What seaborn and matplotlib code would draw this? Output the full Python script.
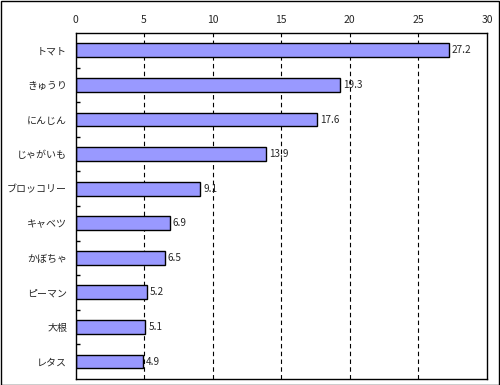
import matplotlib
matplotlib.use("Agg")
import matplotlib.pyplot as plt
import seaborn as sns
import pandas as pd
from matplotlib.patches import Rectangle

vegetables = ["トマト", "きゅうり", "にんじん", "じゃがいも", "ブロッコリー",
              "キャベツ", "かぼちゃ", "ピーマン", "大根", "レタス"]
values = [27.2, 19.3, 17.6, 13.9, 9.1, 6.9, 6.5, 5.2, 5.1, 4.9]
x_ticks = [0, 5, 10, 15, 20, 25, 30]

sns.set_style("white")
plt.rcParams["font.family"] = ["Noto Sans CJK JP", "DejaVu Sans"]

df = pd.DataFrame({"veg": vegetables, "val": values})

fig = plt.figure(figsize=(5, 3.85), dpi=100)
ax = fig.add_axes([0.151, 0.016, 0.823, 0.898])

for x in x_ticks[1:-1]:
    ax.axvline(x, color="black", linestyle=(0, (4, 3)), linewidth=0.8, zorder=0)

sns.barplot(data=df, x="val", y="veg", orient="h", color="#9999FF",
            saturation=1, width=0.4, edgecolor="black", linewidth=1, ax=ax,
            zorder=2)

ax.set_xlim(0, 30)
ax.set_ylim(len(vegetables) - 0.5, -0.5)
ax.set_xticks(x_ticks)
ax.xaxis.tick_top()
ax.tick_params(axis="x", length=0, labelsize=7.5, pad=6)
ax.tick_params(axis="y", length=0, labelsize=7.2, pad=6)
ax.set_yticks([i + 0.5 for i in range(len(vegetables) - 1)], minor=True)
ax.tick_params(axis="y", which="minor", left=True, length=3, direction="in", width=1,
               color="black")
ax.set_xlabel("")
ax.set_ylabel("")

for sp in ax.spines.values():
    sp.set_visible(True)
    sp.set_color("black")
    sp.set_linewidth(1)

for i, v in enumerate(values):
    ax.annotate(f"{v}", (v, i), xytext=(2, 0), textcoords="offset points",
                va="center", ha="left", fontsize=7.2)

fig.patches.append(Rectangle((0.001, 0.001), 0.997, 0.996, transform=fig.transFigure,
                             fill=False, edgecolor="black", linewidth=1))

fig.savefig("out.png", dpi=100)
